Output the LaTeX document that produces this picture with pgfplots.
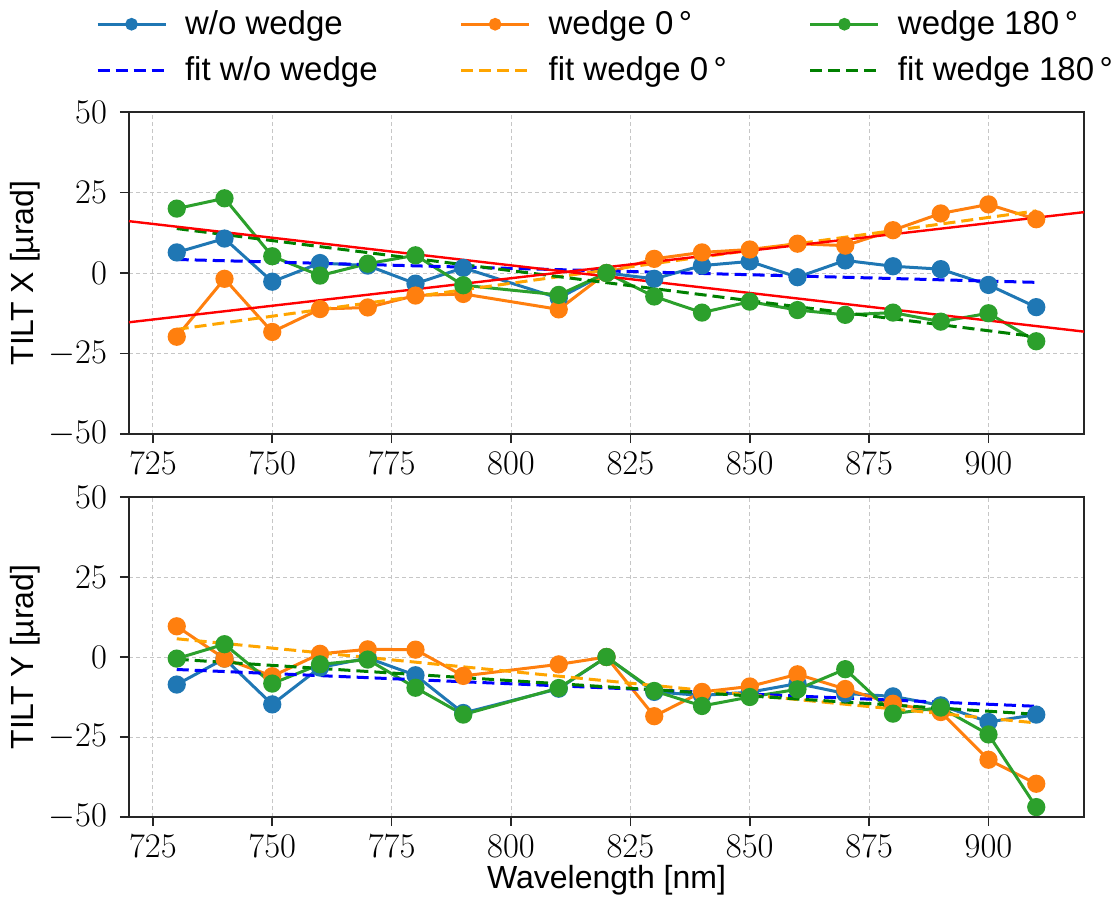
\documentclass[border=0pt]{standalone}
\usepackage{pgfplots}
\pgfplotsset{compat=1.18}
\usepackage{fontspec}
\setmainfont{Liberation Sans}
\definecolor{tabblue}{RGB}{31,119,180}
\definecolor{taborange}{RGB}{255,127,14}
\definecolor{tabgreen}{RGB}{44,160,44}
\definecolor{fitorange}{RGB}{255,165,0}
\definecolor{fitgreen}{RGB}{0,128,0}
\definecolor{fitblue}{RGB}{0,0,255}
\newcommand{\lblfont}{\fontsize{16}{19}\selectfont}
\newcommand{\legfont}{\fontsize{16.5}{19}\selectfont}
\pgfplotsset{
  myaxis/.style={
    scale only axis, width=477.5pt,
    xmin=720, xmax=920, ymin=-50, ymax=50,
    xtick={725,750,...,900}, ytick={-50,-25,0,25,50},
    tick align=outside, xtick pos=left, ytick pos=left,
    major tick length=4.5pt,
    grid=major,
    grid style={gray!45, line width=0.5pt, dash pattern=on 2pt off 1.5pt},
    axis line style={line width=0.8pt, black!85},
    major tick style={line width=0.8pt, black!85},
    tick label style={font=\fontsize{16.5}{19}\selectfont},
    xticklabel style={yshift=-1pt},
    yticklabel style={xshift=-3pt},
    every axis y label/.style={at={(axis description cs:-0.109,0.5)}, rotate=90, anchor=center, font=\lblfont},
    every axis x label/.style={at={(axis description cs:0.5,-0.197)}, anchor=center, font=\lblfont},
    data/.style={line width=1.5pt, mark=*, mark size=3.8pt},
    fit/.style={line width=1.5pt, dash pattern=on 6pt off 3pt},
    legend image code/.code={\draw[mark repeat=2,mark phase=2,##1, mark size=2.4pt] plot coordinates {(0pt,0pt)(17pt,0pt)(34pt,0pt)};},
  }
}
\begin{document}
\begin{tikzpicture}
\path[use as bounding box] (-64.5pt,-234pt) rectangle (493pt,217pt);
\begin{axis}[myaxis, at={(0,0)}, anchor=south west, height=161pt,
  ylabel={TILT X [µrad]},
  legend columns=3, legend cell align=left,
  legend style={at={(0.5,1)}, anchor=south, yshift=10pt, draw=none, fill=none, font=\legfont,
    /tikz/every odd column/.append style={column sep=7pt},
    /tikz/every even column/.append style={column sep=39pt},
    row sep=5.5pt},
]
\addplot[data, tabblue] coordinates {(730,6.4)(740,10.7)(750,-2.7)(760,3.1)(770,2.3)(780,-3.3)(790,1.6)(810,-7.8)(820,0)(830,-1.8)(840,2.3)(850,3.6)(860,-1.3)(870,3.9)(880,2.1)(890,1.2)(900,-3.7)(910,-10.6)};
\addlegendentry{w/o wedge}
\addplot[data, taborange] coordinates {(730,-19.8)(740,-1.8)(750,-18.3)(760,-11.2)(770,-10.7)(780,-7.0)(790,-6.5)(810,-11.3)(820,0)(830,4.4)(840,6.4)(850,7.3)(860,9.1)(870,8.5)(880,13.3)(890,18.5)(900,21.3)(910,16.7)};
\addlegendentry{wedge 0\,°}
\addplot[data, tabgreen] coordinates {(730,20.0)(740,23.2)(750,5.2)(760,-0.8)(770,2.9)(780,5.5)(790,-3.8)(810,-6.8)(820,0)(830,-7.3)(840,-12.3)(850,-8.9)(860,-11.5)(870,-13.0)(880,-12.3)(890,-15.1)(900,-12.5)(910,-21.2)};
\addlegendentry{wedge 180\,°}
\addplot[fit, fitblue] coordinates {(730,4.2)(910,-2.9)};
\addlegendentry{fit w/o wedge}
\addplot[fit, fitorange] coordinates {(730,-17.5)(910,19.3)};
\addlegendentry{fit wedge 0\,°}
\addplot[fit, fitgreen] coordinates {(730,13.8)(910,-19.8)};
\addlegendentry{fit wedge 180\,°}
\addplot[red, line width=1.2pt, forget plot] coordinates {(720,16.1)(920,-18.2)};
\addplot[red, line width=1.2pt, forget plot] coordinates {(720,-15.3)(920,18.9)};
\end{axis}
\begin{axis}[myaxis, at={(0,-31.5pt)}, anchor=north west, height=160pt,
  ylabel={TILT Y [µrad]}, xlabel={Wavelength [nm]},
]
\addplot[data, tabblue] coordinates {(730,-8.6)(740,-0.5)(750,-14.8)(760,-3.3)(770,-0.3)(780,-5.7)(790,-17.5)(810,-9.9)(820,0)(830,-10.9)(840,-12)(850,-11)(860,-8.3)(870,-11.4)(880,-12.3)(890,-15.1)(900,-20.3)(910,-18.0)};
\addplot[data, taborange] coordinates {(730,9.6)(740,-0.5)(750,-6.0)(760,1.0)(770,2.4)(780,2.3)(790,-5.9)(810,-2.3)(820,0)(830,-18.5)(840,-10.9)(850,-9.2)(860,-5.4)(870,-10)(880,-14.6)(890,-17.2)(900,-32.1)(910,-39.6)};
\addplot[data, tabgreen] coordinates {(730,-0.5)(740,4.0)(750,-8.3)(760,-2.3)(770,-0.8)(780,-9.6)(790,-18.0)(810,-9.7)(820,0)(830,-10.6)(840,-15.3)(850,-12.5)(860,-10.1)(870,-3.8)(880,-17.7)(890,-15.8)(900,-24.2)(910,-46.9)};
\addplot[fit, fitblue] coordinates {(730,-3.9)(910,-15.4)};
\addplot[fit, fitorange] coordinates {(730,5.7)(910,-20.6)};
\addplot[fit, fitgreen] coordinates {(730,-0.7)(910,-17.9)};
\end{axis}
\end{tikzpicture}
\end{document}
